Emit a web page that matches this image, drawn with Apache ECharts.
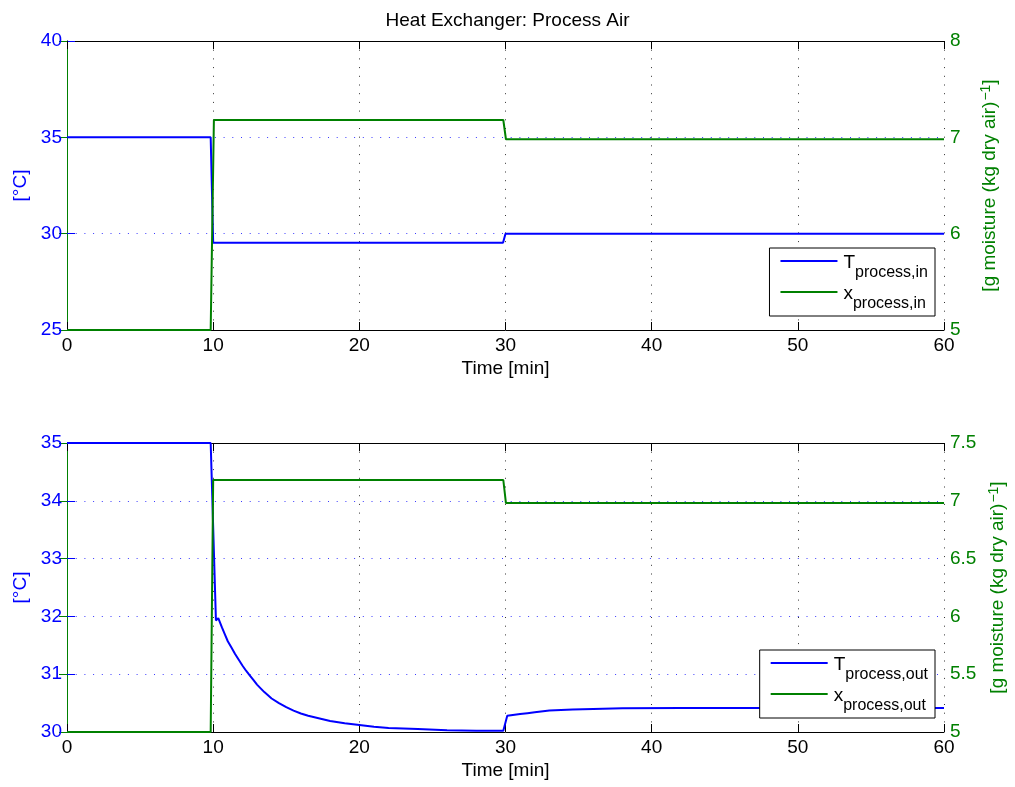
<!DOCTYPE html>
<html>
<head>
<meta charset="utf-8">
<script src="https://cdn.jsdelivr.net/npm/echarts@6/dist/echarts.min.js"></script>
<style>
  html, body { margin: 0; padding: 0; background: #fff; }
  #chart { width: 1015px; height: 787px; }
</style>
</head>
<body>
<div id="chart"></div>
<script>
// ---- Data ----
const chartTitle = 'Heat Exchanger: Process Air';
const xAxisTitle = 'Time [min]';

// Top panel: process air in
const timeIn = [0, 9.83, 10.0, 29.83, 30.0, 60];
const tempIn = [35, 35, 29.53, 29.53, 30.0, 30.0];
const timeMoistIn = [0, 9.83, 10.05, 29.85, 30.03, 60];
const moistIn = [5, 5, 7.18, 7.18, 6.98, 6.98];

// Bottom panel: process air out
const timeOut = [0, 9.83, 10.19, 10.35, 10.6, 10.8, 11.0, 11.25, 11.5, 11.75, 12.0, 12.25, 12.5, 12.75, 13.0, 13.5, 14.0, 14.5, 15.0, 15.5, 16.0, 16.5, 17.0, 17.5, 18.0, 19.0, 20.0, 21.0, 22.0, 24.0, 26.0, 28.0, 29.85, 30.12, 30.5, 31.0, 31.5, 32.0, 33.0, 34.6, 36.0, 38.0, 42.0, 60.0];
const tempOut = [35, 35, 31.93, 31.97, 31.81, 31.69, 31.57, 31.46, 31.35, 31.25, 31.15, 31.06, 30.98, 30.90, 30.82, 30.69, 30.58, 30.50, 30.43, 30.37, 30.32, 30.28, 30.25, 30.22, 30.19, 30.15, 30.12, 30.09, 30.07, 30.05, 30.03, 30.02, 30.02, 30.28, 30.295, 30.31, 30.325, 30.34, 30.37, 30.39, 30.40, 30.41, 30.415, 30.415];
const timeMoistOut = [0, 9.83, 10.0, 29.85, 30.03, 60];
const moistOut = [5, 5, 7.18, 7.18, 6.98, 6.98];

const seriesNames = ['T process,in', 'x process,in', 'T process,out', 'x process,out'];

function pairs(xs, ys) { return xs.map((x, i) => [x, ys[i]]); }

const FONT = '"Liberation Sans", Arial, Helvetica, sans-serif';
const BLUE = '#0000ff';
const GREEN = '#008000';
const FS = 19;

const chart = echarts.init(document.getElementById('chart'), null, { renderer: 'canvas' });

function xAxes(grid) {
  return [
    {
      type: 'value', gridIndex: grid, min: 0, max: 60, interval: 10, position: 'bottom',
      name: xAxisTitle, nameLocation: 'middle', nameGap: 29,
      nameTextStyle: { color: '#000', fontSize: FS, fontFamily: FONT },
      axisLine: { onZero: false, lineStyle: { color: '#000', width: 1 } },
      axisTick: { inside: true, length: 8, lineStyle: { color: '#000' } },
      axisLabel: { color: '#000', fontSize: FS, fontFamily: FONT, margin: 6 },
      splitLine: { show: true, lineStyle: { color: '#333', width: 1, type: [1, 7.7] } }
    },
    {
      type: 'value', gridIndex: grid, min: 0, max: 60, interval: 10, position: 'top',
      axisLine: { onZero: false, lineStyle: { color: '#000', width: 1 } },
      axisTick: { inside: true, length: 8, lineStyle: { color: '#000' } },
      axisLabel: { show: false },
      splitLine: { show: false }
    }
  ];
}

function leftAxis(grid, min, max, interval) {
  return {
    type: 'value', gridIndex: grid, min: min, max: max, interval: interval, position: 'left',
    name: '[°C]', nameLocation: 'middle', nameGap: 35, nameRotate: 90,
    nameTextStyle: { color: BLUE, fontSize: FS, fontFamily: FONT },
    axisLine: { show: true, lineStyle: { color: BLUE, width: 1 } },
    axisTick: { show: true, inside: true, length: 8, lineStyle: { color: BLUE } },
    axisLabel: { color: BLUE, fontSize: FS, fontFamily: FONT, margin: 5 },
    splitLine: { show: true, lineStyle: { color: '#3a3aff', width: 1, type: [1, 7.7] } }
  };
}

function rightAxis(grid, min, max, interval) {
  return {
    type: 'value', gridIndex: grid, min: min, max: max, interval: interval, position: 'right',
    name: '{a|[g moisture (kg dry air)}{s|−1}{a|]}', nameLocation: 'middle', nameGap: 35, nameRotate: 90,
    nameTextStyle: {
      color: GREEN, fontSize: FS, fontFamily: FONT,
      rich: {
        a: { color: GREEN, fontSize: FS, fontFamily: FONT, lineHeight: 20, verticalAlign: 'bottom' },
        s: { color: GREEN, fontSize: 14, fontFamily: FONT, lineHeight: 14, padding: [0, 0, 10, 1], verticalAlign: 'top' }
      }
    },
    axisLine: { show: true, lineStyle: { color: GREEN, width: 1 } },
    axisTick: { show: true, inside: true, length: 8, lineStyle: { color: GREEN } },
    axisLabel: { color: GREEN, fontSize: FS, fontFamily: FONT, margin: 6 },
    splitLine: { show: false }
  };
}

function legendFormatter(name) {
  const idx = name.indexOf(' ');
  return '{m|' + name.slice(0, idx) + '}{s|' + name.slice(idx + 1) + '}';
}
const legendRich = {
  m: { fontSize: FS, fontFamily: FONT, color: '#000', lineHeight: 20, padding: [2, 0, 0, 0], verticalAlign: 'top' },
  s: { fontSize: 16, fontFamily: FONT, color: '#000', lineHeight: 18, padding: [14, 0, 0, 0], verticalAlign: 'top' }
};

function legendFor(names, top) {
  return {
    data: names.map(n => ({ name: n, icon: 'rect' })),
    orient: 'vertical',
    right: 80, top: top,
    itemWidth: 57, itemHeight: 2, itemGap: 1,
    padding: [3, 7, 4, 11],
    backgroundColor: '#fff',
    borderColor: '#000', borderWidth: 1, borderRadius: 0,
    formatter: legendFormatter,
    textStyle: { rich: legendRich, fontFamily: FONT, padding: [0, 0, 0, 1] },
    selectedMode: false
  };
}

const option = {
  backgroundColor: '#fff',
  animation: false,
  title: {
    text: chartTitle, left: 'center', top: 6,
    textStyle: { color: '#000', fontSize: FS, fontWeight: 'normal', fontFamily: FONT }
  },
  grid: [
    { left: 67, right: 71, top: 41, height: 289, containLabel: false, outerBoundsMode: 'none' },
    { left: 67, right: 71, top: 443, height: 289, containLabel: false, outerBoundsMode: 'none' }
  ],
  xAxis: [].concat(xAxes(0), xAxes(1)),
  yAxis: [
    leftAxis(0, 25, 40, 5),
    rightAxis(0, 5, 8, 1),
    leftAxis(1, 30, 35, 1),
    rightAxis(1, 5, 7.5, 0.5)
  ],
  legend: [
    legendFor([seriesNames[0], seriesNames[1]], 248),
    legendFor([seriesNames[2], seriesNames[3]], 650)
  ],
  series: [
    { name: seriesNames[0], type: 'line', xAxisIndex: 0, yAxisIndex: 0, data: pairs(timeIn, tempIn),
      showSymbol: false, symbol: 'none', lineStyle: { color: BLUE, width: 2 }, itemStyle: { color: BLUE }, z: 3 },
    { name: seriesNames[1], type: 'line', xAxisIndex: 0, yAxisIndex: 1, data: pairs(timeMoistIn, moistIn),
      showSymbol: false, symbol: 'none', lineStyle: { color: GREEN, width: 2 }, itemStyle: { color: GREEN }, z: 3 },
    { name: seriesNames[2], type: 'line', xAxisIndex: 2, yAxisIndex: 2, data: pairs(timeOut, tempOut),
      showSymbol: false, symbol: 'none', lineStyle: { color: BLUE, width: 2 }, itemStyle: { color: BLUE }, z: 3 },
    { name: seriesNames[3], type: 'line', xAxisIndex: 2, yAxisIndex: 3, data: pairs(timeMoistOut, moistOut),
      showSymbol: false, symbol: 'none', lineStyle: { color: GREEN, width: 2 }, itemStyle: { color: GREEN }, z: 3 }
  ]
};

chart.setOption(option);
</script>
</body>
</html>
